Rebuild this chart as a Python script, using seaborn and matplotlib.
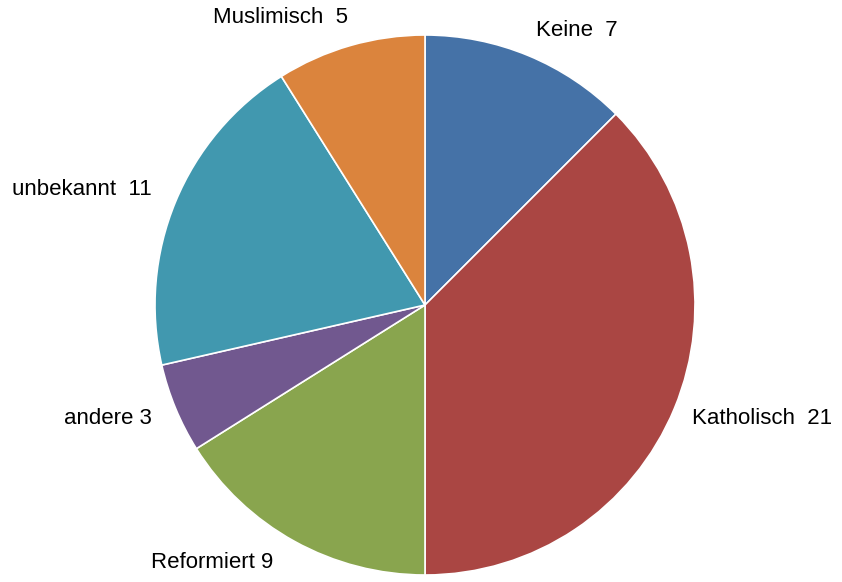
import matplotlib
matplotlib.use("Agg")
import matplotlib.pyplot as plt
import seaborn as sns

categories = ["Keine", "Katholisch", "Reformiert", "andere", "unbekannt", "Muslimisch"]
values = [7, 21, 9, 3, 11, 5]
label_texts = ["Keine  7", "Katholisch  21", "Reformiert 9", "andere 3", "unbekannt  11", "Muslimisch  5"]
colors = ["#4572A7", "#AA4643", "#89A54E", "#71588F", "#4198AF", "#DB843D"]

sns.set_theme(style="white")
plt.rcParams['font.family'] = ['Liberation Sans', 'DejaVu Sans']

fig = plt.figure(figsize=(8.42, 5.82), dpi=100)
# pie radius 270px, center (425, 305)
R = 270
ax = fig.add_axes([(425 - R) / 842, (582 - 305 - R) / 582, 2 * R / 842, 2 * R / 582])
ax.pie(values, colors=colors, startangle=90, counterclock=False, radius=1,
       wedgeprops=dict(edgecolor="white", linewidth=1.2))
ax.set_xlim(-1, 1)
ax.set_ylim(-1, 1)
ax.set_aspect("equal")
ax.axis("off")

# label centers in data units (pixel offsets / 270)
label_pos = [(0.563, 1.015), (1.248, -0.419), (-0.789, -0.952),
             (-1.174, -0.422), (-1.270, 0.426), (-0.537, 1.063)]
for txt, (x, y) in zip(label_texts, label_pos):
    ax.text(x, y, txt, ha="center", va="center", fontsize=16, color="black",
            clip_on=False)

fig.savefig("out.png", dpi=100, facecolor="white")
